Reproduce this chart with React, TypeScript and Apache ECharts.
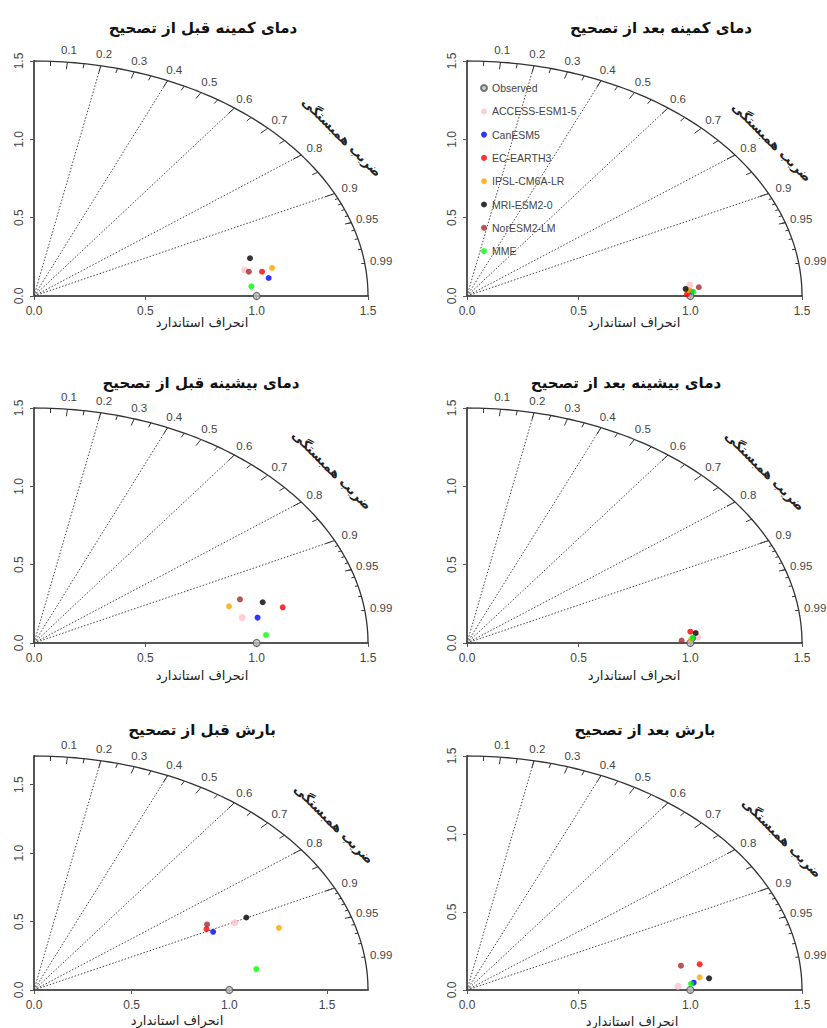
import React, { useEffect, useRef } from "react";
import * as echarts from "echarts";

// ---------- data ----------
const MODELS = ["Observed", "ACCESS-ESM1-5", "CanESM5", "EC-EARTH3", "IPSL-CM6A-LR", "MRI-ESM2-0", "NorESM2-LM", "MME"];
const COLORS = ["#BEBEBE", "#FFC0CB", "#0000FF", "#FF0000", "#FFA500", "#000000", "#A52A2A", "#00FF00"];

const TITLES = [
  "دمای کمینه قبل از تصحیح",
  "دمای کمینه بعد از تصحیح",
  "دمای بیشینه قبل از تصحیح",
  "دمای بیشینه بعد از تصحیح",
  "بارش قبل از تصحیح",
  "بارش بعد از تصحیح",
];
const X_NAME = "انحراف استاندارد";
const COR_NAME = "ضریب همبستگی";

const SD_TICKS = [0, 0.5, 1.0, 1.5];
const COR_TICKS = [0.1, 0.2, 0.3, 0.4, 0.5, 0.6, 0.7, 0.8, 0.9, 0.95, 0.99];
const COR_BIG = [0.1, 0.2, 0.3, 0.4, 0.5, 0.6, 0.7, 0.8, 0.9];
const COR_MED = [0.05, 0.15, 0.25, 0.35, 0.45, 0.55, 0.65, 0.75, 0.85, 0.95];
const COR_SMALL = [0.91, 0.92, 0.93, 0.94, 0.95, 0.96, 0.97, 0.98, 0.99];
const COR_LINES = [0.2, 0.4, 0.6, 0.8, 0.9];
const MAX_SD = [1.5, 1.5, 1.5, 1.5, 1.71, 1.5];
const OBSERVED = [1.0, 0];

// model points [x, y] (normalised SD units), order: ACCESS, CanESM5, EC-EARTH3, IPSL, MRI, NorESM2, MME
const TMIN_BEFORE = [[0.946, 0.166], [1.054, 0.115], [1.024, 0.155], [1.069, 0.179], [0.970, 0.241], [0.965, 0.155], [0.976, 0.062]];
const TMIN_AFTER = [[0.997, 0.070], [1.005, 0.027], [0.985, 0.011], [0.994, 0.036], [0.979, 0.045], [1.038, 0.056], [1.014, 0.027]];
const TMAX_BEFORE = [[0.935, 0.162], [1.004, 0.162], [1.117, 0.228], [0.876, 0.234], [1.027, 0.260], [0.925, 0.279], [1.042, 0.051]];
const TMAX_AFTER = [[1.033, 0.038], [1.012, 0.030], [1.0, 0.072], [1.004, 0.023], [1.024, 0.064], [0.961, 0.015], [1.011, 0.034]];
const PR_BEFORE = [[1.028, 0.491], [0.917, 0.425], [0.883, 0.445], [1.254, 0.454], [1.087, 0.530], [0.886, 0.479], [1.138, 0.153]];
const PR_AFTER = [[0.945, 0.024], [1.015, 0.047], [1.042, 0.165], [1.042, 0.081], [1.084, 0.075], [0.958, 0.156], [1.003, 0.040]];
const PANELS = [TMIN_BEFORE, TMIN_AFTER, TMAX_BEFORE, TMAX_AFTER, PR_BEFORE, PR_AFTER];

// ---------- layout ----------
const LAYOUT = [
  { left: 34, top: 61, width: 334, height: 235 },
  { left: 467, top: 61, width: 335, height: 235 },
  { left: 34, top: 408, width: 334, height: 235 },
  { left: 467, top: 408, width: 335, height: 235 },
  { left: 34, top: 756, width: 334, height: 234 },
  { left: 467, top: 756, width: 335, height: 234 },
];
const TITLE_POS = [[203, 28], [661, 28], [201, 383], [626, 383], [202, 730], [645, 730]];
const XNAME_POS = [[202, 322], [634, 322], [202, 675], [634, 675], [177, 1020], [632, 1021]];
const CORNAME_POS = [[342, 137], [772, 142], [332, 470], [765, 471], [334, 824], [782, 838]];

const SANS = "Liberation Sans";
const FA = "DejaVu Sans";

function buildOption() {
  const xAxis: any[] = [];
  const yAxis: any[] = [];
  const series: any[] = [];
  const graphic: any[] = [];

  LAYOUT.forEach((g, i) => {
    const m = MAX_SD[i];
    const axisCommon = {
      type: "value",
      gridIndex: i,
      min: 0,
      max: m,
      splitLine: { show: false },
      axisLine: { show: true, onZero: false, lineStyle: { color: "#555", width: 2 } },
      axisTick: { show: true, length: 4, customValues: SD_TICKS, lineStyle: { color: "#555", width: 1 } },
    };
    xAxis.push({
      ...axisCommon,
      axisLabel: { customValues: SD_TICKS, formatter: (v: number) => v.toFixed(1), fontSize: 12, color: "#444", margin: 9, fontFamily: SANS },
    });
    yAxis.push({
      ...axisCommon,
      axisLabel: { customValues: SD_TICKS, rotate: 90, formatter: (v: number) => v.toFixed(1), fontSize: 12, color: "#444", margin: 9, fontFamily: SANS },
    });

    // outer arc
    const arc: number[][] = [];
    for (let a = 0; a <= 90; a += 1) {
      const t = (a * Math.PI) / 180;
      arc.push([m * Math.cos(t), m * Math.sin(t)]);
    }
    series.push({
      type: "line", xAxisIndex: i, yAxisIndex: i, data: arc, symbol: "none", silent: true, clip: false,
      lineStyle: { color: "#333", width: 1.3 }, z: 2,
    });
    // correlation dotted lines
    series.push({
      type: "lines", coordinateSystem: "cartesian2d", xAxisIndex: i, yAxisIndex: i, silent: true,
      data: COR_LINES.map((r) => ({ coords: [[0, 0], [m * r, m * Math.sqrt(1 - r * r)]] })),
      lineStyle: { color: "#444", width: 1, type: [1.5, 1.8], opacity: 1 }, z: 1,
    });
    // arc ticks
    const tick = (list: number[], f: number) =>
      list.map((r) => ({ coords: [[m * r, m * Math.sqrt(1 - r * r)], [f * m * r, f * m * Math.sqrt(1 - r * r)]] }));
    series.push({
      type: "lines", coordinateSystem: "cartesian2d", xAxisIndex: i, yAxisIndex: i, silent: true,
      data: [...tick(COR_BIG, 0.97), ...tick(COR_MED, 0.98), ...tick(COR_SMALL, 0.99)],
      lineStyle: { color: "#333", width: 1, opacity: 1 }, z: 2,
    });
    // correlation labels
    series.push({
      type: "scatter", xAxisIndex: i, yAxisIndex: i, silent: true, clip: false,
      symbol: "circle", symbolSize: 0.1, itemStyle: { color: "#444", opacity: 0 },
      data: COR_TICKS.map((r) => ({ name: String(r), value: [1.05 * m * r, 1.05 * m * Math.sqrt(1 - r * r)] })),
      label: {
        show: true, position: [0, 0], align: "center", verticalAlign: "middle",
        formatter: (p: any) => p.name, fontSize: 11.5, color: "#444",
        fontFamily: SANS, textBorderWidth: 0, opacity: 1,
      },
      z: 3,
    });
    // observed
    series.push({
      type: "scatter", name: MODELS[0], xAxisIndex: i, yAxisIndex: i, clip: false,
      data: [OBSERVED], symbol: "circle", symbolSize: 7,
      itemStyle: { color: COLORS[0], borderColor: "#555", borderWidth: 1.2 }, z: 5,
    });
    // models
    PANELS[i].forEach((pt, k) => {
      series.push({
        type: "scatter", name: MODELS[k + 1], xAxisIndex: i, yAxisIndex: i, clip: false,
        data: [pt], symbol: "circle", symbolSize: k === 0 ? 7 : 6,
        itemStyle: { color: COLORS[k + 1] }, z: 6,
      });
    });

    graphic.push({
      type: "text", x: TITLE_POS[i][0], y: TITLE_POS[i][1],
      style: { text: TITLES[i], fontFamily: FA, fontSize: 15, fontWeight: "bold", fill: "#111", align: "center", verticalAlign: "middle", textAlign: "center", textVerticalAlign: "middle" },
    });
    graphic.push({
      type: "text", x: XNAME_POS[i][0], y: XNAME_POS[i][1],
      style: { text: X_NAME, fontFamily: FA, fontSize: 13, fill: "#222", align: "center", verticalAlign: "middle", textAlign: "center", textVerticalAlign: "middle" },
    });
    graphic.push({
      type: "text", x: CORNAME_POS[i][0], y: CORNAME_POS[i][1], rotation: -Math.PI / 4,
      style: { text: COR_NAME, fontFamily: FA, fontSize: 13, fontWeight: "bold", fill: "#222", align: "center", verticalAlign: "middle", textAlign: "center", textVerticalAlign: "middle" },
    });
  });

  return {
    animation: false,
    backgroundColor: "#fff",
    textStyle: { fontFamily: SANS },
    grid: LAYOUT.map((g) => ({ ...g, containLabel: false })),
    xAxis,
    yAxis,
    legend: {
      data: MODELS,
      orient: "vertical",
      left: 480,
      top: 82,
      padding: 0,
      itemWidth: 6,
      itemHeight: 6,
      itemGap: 11.3,
      icon: "circle",
      selectedMode: false,
      textStyle: { fontSize: 10.5, color: "#444", fontFamily: SANS, lineHeight: 12 },
    },
    series,
    graphic,
  };
}

export default function App() {
  const ref = useRef<HTMLDivElement>(null);
  useEffect(() => {
    if (!ref.current) return;
    const chart = echarts.init(ref.current, undefined, { renderer: "svg" });
    chart.setOption(buildOption() as any);
    return () => chart.dispose();
  }, []);
  return <div ref={ref} style={{ position: "absolute", left: 0, top: 0, width: 827, height: 1028, background: "#fff" }} />;
}
